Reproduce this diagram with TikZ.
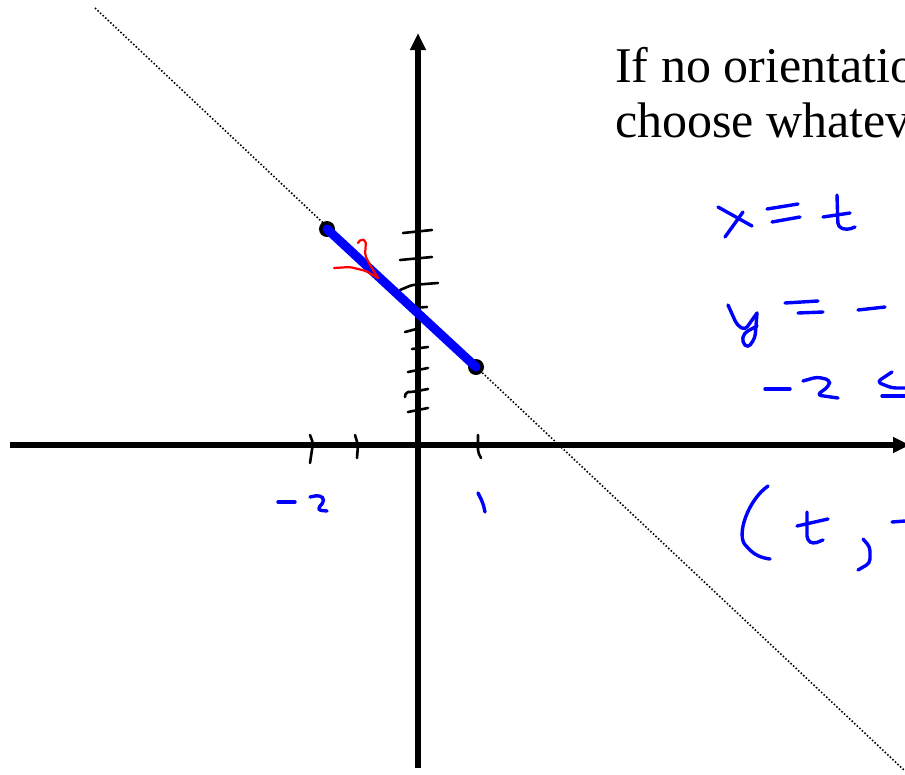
\documentclass[tikz,border=0pt]{standalone}
\usepackage{fontspec}
\setmainfont{Liberation Serif}
\usetikzlibrary{arrows.meta}
\tikzset{
  axis/.style={line width=5.5pt,-{Triangle[length=17pt,width=15pt]}},
  tick/.style={line width=2.6pt,line cap=round,line join=round,rounded corners=2pt},
  hand/.style={draw=blue,line width=3.4pt,line cap=round,line join=round,rounded corners=4pt},
  redhand/.style={draw=red,line width=2.2pt,line cap=round,line join=round,rounded corners=2pt},
  guide/.style={line width=1.6pt,dash pattern=on 1.5pt off 2pt},
  seg/.style={draw=blue,line width=9pt,line cap=round},
  endpt/.style={circle,fill=black,inner sep=0pt,minimum size=16pt},
  caption/.style={anchor=base west,inner sep=0pt,font=\fontsize{50}{55}\selectfont}
}
\begin{document}
\begin{tikzpicture}[x=1pt,y=-1pt]
\useasboundingbox (0,0) rectangle (905,774);
\clip (0,0) rectangle (905,774);
% guide line
\coordinate (g1) at (95,8);
\coordinate (g2) at (905,771);
\draw[guide] (g1) -- (g2);
% axes
\coordinate (xa) at (10,445);
\coordinate (xb) at (910,445);
\coordinate (ya) at (418,768);
\coordinate (yb) at (418,33);
\draw[axis] (xa) -- (xb);
\draw[axis] (ya) -- (yb);
% y ticks
\draw[tick] (403,233) -- (432,230);
\draw[tick] (400,260) -- (432,257);
\draw[tick] (400,290) -- (412,285) -- (438,283);
\draw[tick] (410,308) -- (427,307);
\draw[tick] (405,332) -- (420,328);
\draw[tick] (412,349) -- (428,347);
\draw[tick] (408,372) -- (428,368);
\draw[tick] (405,397) -- (406,392) -- (412,392) -- (428,389);
\draw[tick] (408,412) -- (428,408);
% x ticks
\draw[tick] (310,435) -- (313,443) -- (310,463);
\draw[tick] (355,435) -- (358,445) -- (357,458);
\draw[tick] (478,435) -- (478,452) -- (481,458);
% segment
\node[endpt] (p) at (327,229) {};
\node[endpt] (q) at (476,367) {};
\draw[seg] (p.center) -- (q.center);
% red arrow mark
\draw[redhand] (334,268) -- (350,267) -- (366,271) -- (378,278);
\draw[redhand] (358,243) -- (361,239) -- (366,241) -- (365,255) -- (370,265) -- (378,278);
% axis labels
\draw[hand] (278,502) -- (295,502);
\draw[hand] (310,497) -- (320,495) -- (325,500) -- (317,510) -- (327,511);
\draw[hand] (478,493) -- (483,503) -- (485,512);
% text
\node[caption] (t1) at (615,82) {If no orientatio};
\node[caption] (t2) at (615,137) {choose whatev};
% x = t
\draw[hand] (718,207) -- (752,226);
\draw[hand] (725,237) -- (743,212);
\draw[hand] (767,209) -- (798,204);
\draw[hand] (772,222) -- (800,217);
\draw[hand] (837,195) -- (838,227) -- (847,230) -- (855,227);
\draw[hand] (823,217) -- (850,213);
% y = -
\draw[hand] (728,305) -- (737,325) -- (745,330) -- (757,313);
\draw[hand] (757,313) -- (755,338) -- (748,348) -- (742,342) -- (744,333) -- (757,326);
\draw[hand] (785,303) -- (818,301);
\draw[hand] (798,313) -- (823,312);
\draw[hand] (858,310) -- (885,307);
% -2 <=
\draw[hand] (765,389) -- (790,389);
\draw[hand] (803,381) -- (817,377) -- (830,380) -- (829,386) -- (817,395) -- (838,398);
\draw[hand] (892,372) -- (877,382) -- (892,388) -- (905,388);
\draw[hand] (882,396) -- (905,396);
% (t, -
\draw[hand] (768,486) .. controls (748,500) and (736,535) .. (748,548) .. controls (755,555) and (762,558) .. (770,559);
\draw[hand] (807,512) -- (807,540) -- (813,544) -- (823,540);
\draw[hand] (797,526) -- (828,519);
\draw[hand] (863,539) -- (870,547) -- (870,563) -- (858,570);
\draw[hand] (892,522) -- (905,521);
\end{tikzpicture}
\end{document}
